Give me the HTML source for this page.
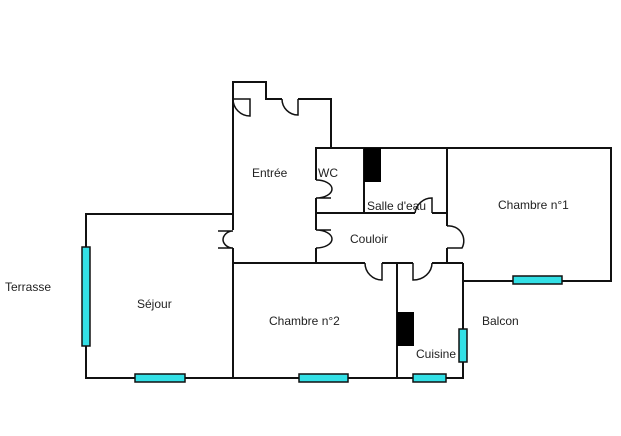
<!DOCTYPE html>
<html><head><meta charset="utf-8"><style>
html,body{margin:0;padding:0;background:#fff;width:621px;height:436px;overflow:hidden}
svg{display:block}
text{font-family:"Liberation Sans",Arial,sans-serif;font-size:12px;fill:#222}
</style></head><body>
<svg width="621" height="436" viewBox="0 0 621 436" xmlns="http://www.w3.org/2000/svg">
<g fill="none" stroke="#111" stroke-width="2">
<!-- Entrée -->
<polyline points="233,230 233,82 266,82 266,99 282,99"/>
<polyline points="298,99 331,99 331,148"/>
<polyline points="233,248 233,263 316,263"/>
<path d="M233,99 A17,17 0 0 0 250,116 L250,99 Z" stroke-width="1.5"/>
<path d="M282,99 A16,16 0 0 0 298,115 L298,99" stroke-width="1.5"/>
<path d="M233,231 A10,9 0 0 0 223,240 A10,9 0 0 0 233,248 M218,231 L233,231 M218,248 L233,248" stroke-width="1.5"/>
<!-- WC / Salle -->
<polyline points="316,180 316,148 447,148 447,226"/>
<polyline points="316,198 316,230"/>
<polyline points="316,248 316,263"/>
<path d="M316,180 A16,9 0 0 1 316,198 M316,198 L331,198" stroke-width="1.5"/>
<path d="M316,230 A16,9 0 0 1 316,248 M316,230 L331,230" stroke-width="1.5"/>
<line x1="364" y1="148" x2="364" y2="213"/>
<line x1="316" y1="213" x2="415" y2="213"/>
<line x1="432" y1="213" x2="447" y2="213"/>
<path d="M415,213 A17,17 0 0 1 432,198 L432,213" stroke-width="1.5"/>
<!-- Couloir right door -->
<line x1="447" y1="248" x2="447" y2="263"/>
<path d="M447,248 L462,248 A15,15 0 0 0 447,226" stroke-width="1.5"/>
<!-- Chambre 1 -->
<polyline points="447,148 611,148 611,281 463,281"/>
<!-- Couloir bottom -->
<line x1="316" y1="263" x2="365" y2="263"/>
<line x1="382" y1="263" x2="413" y2="263"/>
<line x1="432" y1="263" x2="463" y2="263"/>
<path d="M365,263 A17,17 0 0 0 382,280 L382,263" stroke-width="1.5"/>
<path d="M413,263 L413,280 A19,17 0 0 0 432,263" stroke-width="1.5"/>
<!-- Séjour -->
<polyline points="233,214 86,214 86,378 463,378 463,263"/>
<line x1="233" y1="263" x2="233" y2="378"/>
<line x1="397" y1="263" x2="397" y2="378"/>
</g>
<!-- blocks -->
<rect x="364" y="148" width="17" height="34" fill="#000"/>
<rect x="397" y="312" width="17" height="34" fill="#000"/>
<!-- windows -->
<g fill="#33e0e6" stroke="#111" stroke-width="1.5">
<rect x="82" y="247" width="8" height="99"/>
<rect x="135" y="374" width="50" height="8"/>
<rect x="299" y="374" width="49" height="8"/>
<rect x="413" y="374" width="33" height="8"/>
<rect x="459" y="329" width="8" height="33"/>
<rect x="513" y="276" width="49" height="8"/>
</g>
<text x="252" y="177">Entrée</text>
<text x="318" y="177">WC</text>
<text x="367" y="210">Salle d'eau</text>
<text x="350" y="243">Couloir</text>
<text x="498" y="209">Chambre n°1</text>
<text x="5" y="291">Terrasse</text>
<text x="137" y="308">Séjour</text>
<text x="269" y="325">Chambre n°2</text>
<text x="482" y="325">Balcon</text>
<text x="416" y="358">Cuisine</text>
</svg>
</body></html>
